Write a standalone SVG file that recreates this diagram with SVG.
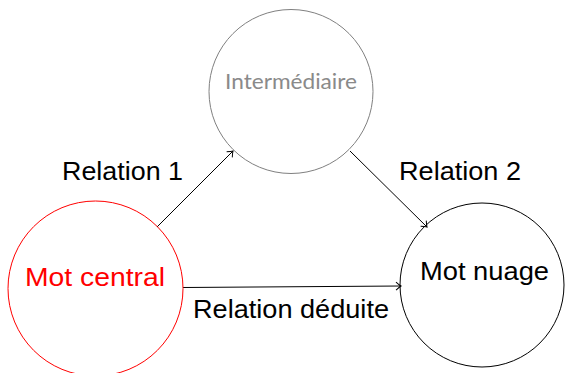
<svg xmlns="http://www.w3.org/2000/svg" width="565" height="373" viewBox="0 0 565 373">
<style>
.lbl{font-family:"Liberation Sans","DejaVu Sans",sans-serif;font-size:26.5px;fill:#000}
.edge{stroke:#000;stroke-width:1;fill:none}
</style>
<defs>
<marker id="to" markerUnits="userSpaceOnUse" markerWidth="12" markerHeight="12" refX="0" refY="0" viewBox="-6 -6 12 12" orient="auto">
<path d="M-5,-4 Q-1.5,-0.8 0,0 Q-1.5,0.8 -5,4" fill="none" stroke="#000" stroke-width="1"/>
</marker>
</defs>
<rect width="565" height="373" fill="#fff"/>
<g id="connectors">
<line class="edge" x1="157" y1="227" x2="233" y2="151" marker-end="url(#to)"/>
<line class="edge" x1="350" y1="151" x2="427" y2="227" marker-end="url(#to)"/>
<line class="edge" x1="183" y1="287.5" x2="401" y2="286" marker-end="url(#to)"/>
<text class="lbl" x="62" y="180" textLength="121" lengthAdjust="spacingAndGlyphs">Relation 1</text>
<text class="lbl" x="399" y="180" textLength="122" lengthAdjust="spacingAndGlyphs">Relation 2</text>
<text class="lbl" x="193" y="318" textLength="196" lengthAdjust="spacingAndGlyphs">Relation déduite</text>
</g>
<g id="intermediaire">
<circle cx="291" cy="91.5" r="82" fill="none" stroke="#808080" stroke-width="1"/>
<text x="225" y="89" font-family="Lato,'Open Sans',sans-serif" font-size="20.5" fill="#8a8a8a" textLength="132" lengthAdjust="spacingAndGlyphs">Intermédiaire</text>
</g>
<g id="mot-central">
<circle cx="95.5" cy="288.5" r="87.5" fill="none" stroke="#ff0000" stroke-width="1"/>
<text class="lbl" x="25" y="286" style="fill:#ff0000" textLength="140" lengthAdjust="spacingAndGlyphs">Mot central</text>
</g>
<g id="mot-nuage">
<circle cx="482" cy="285" r="82" fill="none" stroke="#000" stroke-width="1"/>
<text class="lbl" x="420" y="280" textLength="129" lengthAdjust="spacingAndGlyphs">Mot nuage</text>
</g>
</svg>
